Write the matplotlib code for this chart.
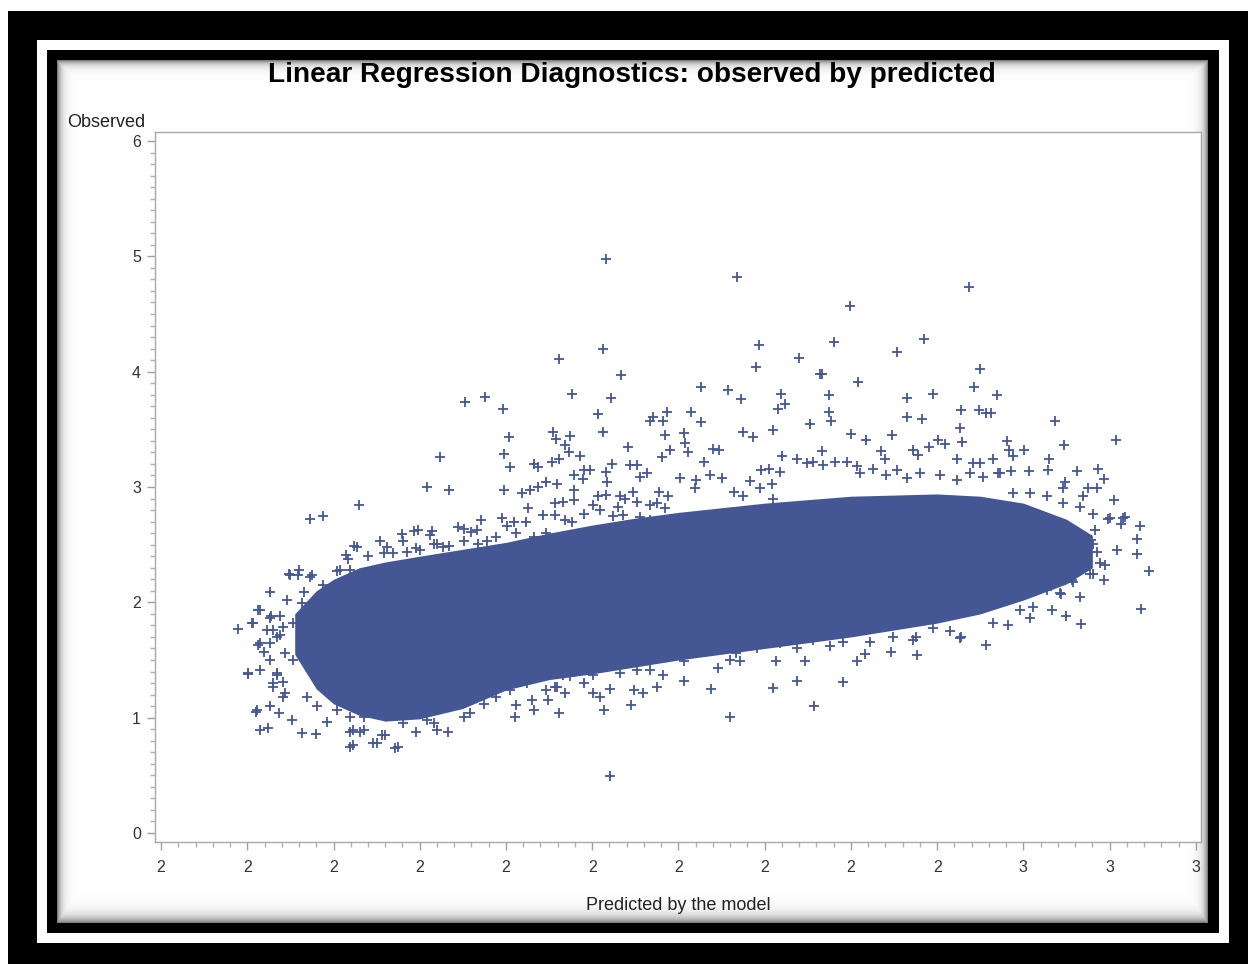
import numpy as np
import matplotlib
matplotlib.use("Agg")
import matplotlib.pyplot as plt
from matplotlib.patches import Rectangle
from matplotlib.ticker import FixedLocator, FixedFormatter, MultipleLocator

plt.rcParams['font.family'] = ['Liberation Sans', 'DejaVu Sans']

# ---------------- data ----------------
title = "Linear Regression Diagnostics: observed by predicted"
x_label = "Predicted by the model"
y_label = "Observed"
x_ticks = [1.5, 1.6, 1.7, 1.8, 1.9, 2.0, 2.1, 2.2, 2.3, 2.4, 2.5, 2.6, 2.7]
x_tick_labels = ["2", "2", "2", "2", "2", "2", "2", "2", "2", "2", "3", "3", "3"]
y_ticks = [0, 1, 2, 3, 4, 5, 6]

# dense core of the point cloud (where markers overlap into a solid mass)
core_x  = [1.655, 1.680, 1.700, 1.730, 1.760, 1.800, 1.850, 1.900, 1.950, 2.000, 2.050, 2.100, 2.200, 2.300, 2.400, 2.450, 2.500, 2.550, 2.580]
core_lo = [1.55,  1.25,  1.12,  1.02,  0.97,  0.99,  1.08,  1.24,  1.33,  1.38,  1.44,  1.50,  1.60,  1.70,  1.82,  1.90,  2.02,  2.16,  2.30]
core_hi = [1.90,  2.10,  2.20,  2.30,  2.35,  2.40,  2.46,  2.52,  2.60,  2.67,  2.73,  2.78,  2.86,  2.92,  2.94,  2.92,  2.86,  2.72,  2.58]

# individually visible observations: (predicted, observed)
pts_upper_left = [
    (2.016, 4.98), (2.012, 4.20), (1.961, 4.11), (2.033, 3.97), (1.976, 3.81), (2.022, 3.77),
    (1.852, 3.74), (1.876, 3.78), (1.897, 3.68), (2.007, 3.63), (2.012, 3.48), (2.067, 3.57),
    (2.070, 3.61), (2.082, 3.57), (2.087, 3.65), (1.903, 3.43), (1.954, 3.48), (1.958, 3.42),
    (1.974, 3.44), (2.084, 3.45), (1.969, 3.36), (1.973, 3.30), (1.986, 3.27), (2.042, 3.35),
    (1.898, 3.29), (2.081, 3.26), (2.090, 3.32), (1.823, 3.26), (1.905, 3.17), (1.932, 3.20),
    (1.937, 3.17), (1.953, 3.22), (1.962, 3.24), (1.990, 3.15), (1.998, 3.15), (1.979, 3.10),
    (1.989, 3.07), (2.023, 3.20), (2.016, 3.13), (2.044, 3.19), (2.052, 3.19), (2.055, 3.09),
    (2.063, 3.12), (2.017, 3.04), (1.808, 3.00), (1.834, 2.97), (1.898, 2.97), (1.919, 2.95),
    (1.928, 2.97), (1.937, 3.00), (1.947, 3.04), (1.959, 3.03), (1.979, 2.97), (1.979, 2.89),
    (2.077, 2.96), (2.088, 2.92), (2.007, 2.92), (2.016, 2.93), (2.032, 2.92), (2.038, 2.90),
    (2.047, 2.96), (2.052, 2.87), (2.067, 2.84), (2.075, 2.86), (2.084, 2.82), (1.729, 2.84),
    (1.673, 2.72), (1.688, 2.75), (1.957, 2.86), (1.966, 2.87), (2.001, 2.84), (2.009, 2.80),
    (2.030, 2.83), (1.926, 2.82), (1.943, 2.76), (1.957, 2.76), (1.990, 2.77), (1.895, 2.73),
    (1.901, 2.66), (1.909, 2.70), (1.923, 2.70), (1.871, 2.71), (1.968, 2.71), (1.977, 2.70),
    (2.024, 2.75), (2.036, 2.76), (2.055, 2.74), (2.067, 2.71), (1.844, 2.65), (1.860, 2.61),
    (1.793, 2.62), (1.814, 2.62), (1.780, 2.59), (1.812, 2.58), (1.820, 2.51), (1.834, 2.49),
    (1.754, 2.53), (1.724, 2.49), (1.715, 2.41), (1.740, 2.40), (1.758, 2.43), (1.781, 2.53),
    (1.785, 2.44), (1.796, 2.47), (1.851, 2.53), (1.868, 2.51), (1.878, 2.53), (1.889, 2.57),
    (1.912, 2.60), (1.932, 2.57), (1.947, 2.60), (1.959, 2.54), (1.798, 2.63), (1.851, 2.64),
    (1.866, 2.63), (1.727, 2.48), (1.762, 2.48), (1.717, 2.38), (1.769, 2.43), (1.800, 2.45),
    (1.816, 2.51), (1.827, 2.48), (1.708, 2.28), (1.719, 2.18),
]
pts_upper_right = [
    (2.168, 4.82), (2.437, 4.73), (2.299, 4.57), (2.193, 4.23), (2.280, 4.26), (2.385, 4.28),
    (2.353, 4.17), (2.240, 4.12), (2.190, 4.04), (2.450, 4.02), (2.264, 3.98), (2.267, 3.98),
    (2.308, 3.91), (2.126, 3.87), (2.157, 3.84), (2.172, 3.76), (2.219, 3.81), (2.224, 3.72),
    (2.215, 3.68), (2.275, 3.80), (2.275, 3.65), (2.277, 3.57), (2.443, 3.87), (2.469, 3.80),
    (2.365, 3.77), (2.395, 3.81), (2.115, 3.65), (2.126, 3.56), (2.428, 3.67), (2.448, 3.67),
    (2.457, 3.64), (2.463, 3.64), (2.365, 3.61), (2.382, 3.59), (2.537, 3.57), (2.252, 3.55),
    (2.210, 3.49), (2.175, 3.48), (2.187, 3.43), (2.427, 3.51), (2.429, 3.39), (2.300, 3.46),
    (2.318, 3.41), (2.348, 3.45), (2.607, 3.41), (2.481, 3.40), (2.547, 3.36), (2.107, 3.47),
    (2.108, 3.38), (2.111, 3.30), (2.140, 3.33), (2.147, 3.32), (2.130, 3.22), (2.267, 3.31),
    (2.390, 3.35), (2.401, 3.41), (2.409, 3.37), (2.372, 3.32), (2.378, 3.28), (2.335, 3.31),
    (2.340, 3.24), (2.483, 3.32), (2.488, 3.27), (2.501, 3.32), (2.530, 3.24), (2.220, 3.27),
    (2.237, 3.24), (2.249, 3.21), (2.256, 3.22), (2.268, 3.19), (2.281, 3.22), (2.295, 3.22),
    (2.307, 3.18), (2.423, 3.24), (2.442, 3.21), (2.450, 3.21), (2.465, 3.24), (2.562, 3.14),
    (2.586, 3.16), (2.593, 3.07), (2.137, 3.10), (2.150, 3.08), (2.196, 3.15), (2.205, 3.16),
    (2.218, 3.13), (2.529, 3.15), (2.506, 3.14), (2.486, 3.14), (2.471, 3.12), (2.605, 2.89),
    (2.598, 2.72), (2.616, 2.73), (2.613, 2.68), (2.635, 2.66), (2.632, 2.55), (2.632, 2.42),
    (2.609, 2.45), (2.548, 3.04), (2.546, 2.99), (2.575, 2.99), (2.585, 2.99), (2.569, 2.92),
    (2.581, 2.77), (2.583, 2.63), (2.581, 2.51), (2.554, 2.51), (2.564, 2.43), (2.119, 2.99),
    (2.120, 3.06), (2.102, 3.08), (2.164, 2.96), (2.175, 2.92), (2.183, 3.05), (2.195, 2.99),
    (2.208, 3.03), (2.210, 2.90), (2.310, 3.12), (2.326, 3.16), (2.341, 3.10), (2.353, 3.15),
    (2.365, 3.08), (2.380, 3.12), (2.403, 3.10), (2.423, 3.06), (2.438, 3.12), (2.453, 3.09),
    (2.473, 3.12), (2.488, 2.95), (2.508, 2.95), (2.527, 2.92), (2.546, 2.86), (2.566, 2.83),
]
pts_lower_right = [
    (2.646, 2.27), (2.636, 1.94), (2.600, 2.73), (2.618, 2.74), (2.566, 2.05), (2.567, 1.81),
    (2.549, 1.88), (2.533, 1.93), (2.457, 1.63), (2.377, 1.54), (2.482, 1.80), (2.428, 1.70),
    (2.511, 1.96), (2.508, 1.86), (2.544, 2.07), (2.558, 2.18), (2.589, 2.34), (2.595, 2.32),
    (2.581, 2.25), (2.593, 2.19), (2.579, 2.54), (2.571, 2.48), (2.585, 2.44), (2.465, 1.82),
    (2.427, 1.69), (2.415, 1.75), (2.395, 1.78), (2.376, 1.70), (2.347, 1.57), (2.316, 1.55),
    (2.307, 1.49), (2.291, 1.31), (2.257, 1.10), (2.247, 1.49), (2.237, 1.32), (2.213, 1.49),
    (2.210, 1.26), (2.160, 1.01), (2.138, 1.25), (2.146, 1.43), (2.106, 1.32), (2.106, 1.49),
    (2.160, 1.50), (2.171, 1.49), (2.276, 1.62), (2.291, 1.66), (2.322, 1.66), (2.349, 1.70),
    (2.372, 1.67), (2.125, 1.59), (2.140, 1.60), (2.167, 1.56), (2.191, 1.60), (2.218, 1.65),
    (2.237, 1.60), (2.256, 1.67), (2.496, 1.93), (2.527, 2.11), (2.542, 2.08), (2.556, 2.19),
    (2.577, 2.25),
]
pts_lower_left = [
    (2.021, 0.49), (1.589, 1.77), (1.605, 1.82), (1.613, 1.93), (1.626, 2.09), (1.650, 2.24),
    (1.659, 2.24), (1.675, 2.24), (1.666, 2.09), (1.612, 1.63), (1.623, 1.76), (1.630, 1.76),
    (1.626, 1.86), (1.638, 1.88), (1.646, 2.02), (1.663, 1.99), (1.601, 1.38), (1.615, 1.41),
    (1.626, 1.50), (1.634, 1.37), (1.630, 1.27), (1.644, 1.21), (1.642, 1.31), (1.610, 1.05),
    (1.626, 1.10), (1.637, 1.04), (1.652, 0.98), (1.615, 0.89), (1.624, 0.91), (1.663, 0.87),
    (1.680, 0.86), (1.692, 0.96), (1.719, 0.88), (1.731, 0.88), (1.719, 0.75), (1.746, 0.78),
    (1.756, 0.85), (1.771, 0.74), (1.669, 1.18), (1.681, 1.10), (1.704, 1.07), (1.719, 1.01),
    (1.735, 1.01), (1.796, 0.88), (1.820, 0.89), (1.833, 0.88), (1.781, 0.95), (1.808, 0.98),
    (1.816, 0.95), (1.910, 1.01), (1.912, 1.11), (1.930, 1.15), (1.932, 1.07), (1.949, 1.15),
    (1.961, 1.04), (1.968, 1.21), (1.957, 1.27), (2.001, 1.21), (2.009, 1.18), (2.014, 1.07),
    (2.021, 1.25), (2.045, 1.11), (2.048, 1.24), (2.059, 1.21), (2.075, 1.27), (1.874, 1.12),
    (1.858, 1.04), (1.851, 1.01), (1.889, 1.18), (1.905, 1.24), (1.924, 1.30), (1.947, 1.24),
    (1.959, 1.27), (1.974, 1.36), (1.990, 1.30), (2.001, 1.37), (2.032, 1.39), (2.052, 1.41),
    (2.082, 1.37), (1.912, 1.37), (1.943, 1.37), (1.966, 1.37), (2.067, 1.41), (1.648, 2.25),
    (1.660, 2.28), (1.673, 2.22), (1.704, 2.27), (1.719, 2.28), (1.688, 2.15), (1.700, 2.14),
    (1.619, 1.57), (1.626, 1.65), (1.644, 1.56), (1.653, 1.50), (1.665, 1.62), (1.673, 1.53),
    (1.681, 1.41), (1.688, 1.30), (1.634, 1.70), (1.642, 1.79), (1.653, 1.82), (1.669, 1.88),
    (1.681, 1.96), (1.688, 2.05), (1.615, 1.93), (1.607, 1.82), (1.628, 1.88), (1.638, 1.72),
    (1.615, 1.65), (1.601, 1.39), (1.630, 1.30), (1.634, 1.39), (1.611, 1.07), (1.642, 1.18),
    (1.723, 0.89), (1.735, 0.89), (1.723, 0.76), (1.750, 0.78), (1.760, 0.85), (1.775, 0.75),
]

# ---------------- styling ----------------
W_PX, H_PX = 1248, 964
DPI = 100
MARK = '#445694'

fig = plt.figure(figsize=(W_PX / DPI, H_PX / DPI), dpi=DPI, facecolor='white')


def frect(x0, y0, x1, y1, color, z):
    # pixel box (top-left origin) -> figure rectangle
    r = Rectangle((x0 / W_PX, 1 - y1 / H_PX), (x1 - x0) / W_PX, (y1 - y0) / H_PX,
                  transform=fig.transFigure, facecolor=color, edgecolor='none', zorder=z)
    fig.patches.append(r)


frect(8, 11, 1248, 964, 'black', -3)
frect(37, 40, 1229, 943, 'white', -2)
frect(47, 50, 1219, 933, 'black', -1)

# inner panel with soft inner shadow
PX0, PY0, PX1, PY1 = 57, 60, 1208, 923
ph, pw = PY1 - PY0, PX1 - PX0
yy, xx = np.mgrid[0:ph, 0:pw]
shade = np.maximum.reduce([np.exp(-yy / 4.0), np.exp(-xx / 4.0),
                           np.exp(-(pw - 1 - xx) / 4.0), np.exp(-(ph - 1 - yy) / 6.0)])
img = np.repeat((1 - 0.5 * shade)[..., None], 3, axis=2)
bg = fig.add_axes([PX0 / W_PX, 1 - PY1 / H_PX, pw / W_PX, ph / H_PX], zorder=0)
bg.imshow(img, aspect='auto', interpolation='bilinear')
bg.axis('off')

# main plotting axes
ax = fig.add_axes([155 / W_PX, 1 - 842 / H_PX, (1201 - 155) / W_PX, (842 - 132) / H_PX], zorder=1)
ax.set_facecolor('white')

ax.fill_between(core_x, core_lo, core_hi, color=MARK, linewidth=0, zorder=2)
for grp in (pts_upper_left, pts_upper_right, pts_lower_right, pts_lower_left):
    a = np.array(grp)
    ax.plot(a[:, 0], a[:, 1], linestyle='none', marker='+', markersize=7.5,
            markeredgewidth=1.3, color=MARK, zorder=3)

ax.set_xlim(1.493, 2.706)
ax.set_ylim(-0.078, 6.078)

ax.xaxis.set_major_locator(FixedLocator(x_ticks))
ax.xaxis.set_major_formatter(FixedFormatter(x_tick_labels))
ax.xaxis.set_minor_locator(MultipleLocator(0.02))
ax.yaxis.set_major_locator(FixedLocator(y_ticks))
ax.yaxis.set_minor_locator(MultipleLocator(0.1))

for s in ax.spines.values():
    s.set_color('#a8a8a8')
    s.set_linewidth(1.0)

ax.tick_params(which='major', direction='out', length=6, width=1, color='#a0a0a0',
               labelsize=11.5, labelcolor='#333333')
ax.tick_params(which='minor', direction='out', length=3.5, width=1, color='#b0b0b0')
ax.tick_params(axis='x', which='major', pad=7)
ax.tick_params(axis='y', which='major', pad=4)

fig.text(632 / W_PX, 1 - 75 / H_PX, title, ha='center', va='center',
         fontsize=20.2, fontweight='bold', color='black', zorder=5)
fig.text(145 / W_PX, 1 - 127 / H_PX, y_label, ha='right', va='baseline',
         fontsize=13, color='#222222', zorder=5)
fig.text(678 / W_PX, 1 - 905 / H_PX, x_label, ha='center', va='center',
         fontsize=13, color='#222222', zorder=5)

fig.savefig('out.png', dpi=DPI, facecolor='white')
